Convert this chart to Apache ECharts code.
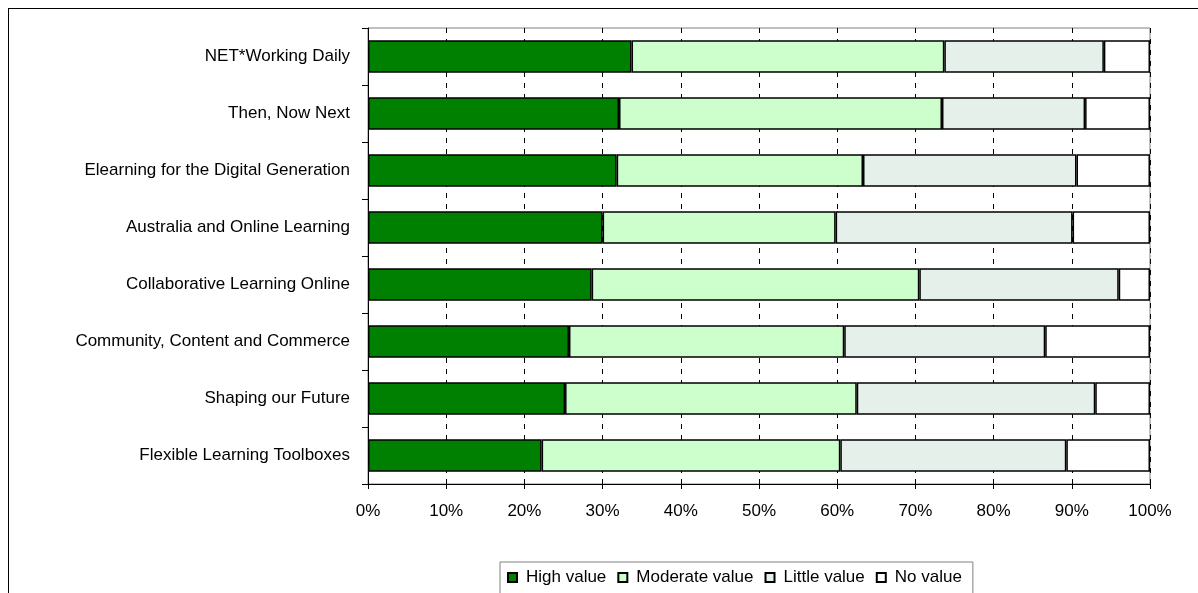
<!DOCTYPE html>
<html>
<head>
<meta charset="utf-8">
<script src="https://cdn.jsdelivr.net/npm/echarts@6/dist/echarts.min.js"></script>
<style>
  html, body { margin: 0; padding: 0; background: #fff; }
  #frame { position: absolute; left: 8px; top: 8px; width: 1190px; height: 585px; border-left: 1px solid #000; border-top: 1px solid #000; }
  #chart { position: absolute; left: 0; top: 0; width: 1198px; height: 593px; }
</style>
</head>
<body>
<div id="frame"></div>
<div id="chart"></div>
<script>
const categories = [
  "NET*Working Daily",
  "Then, Now Next",
  "Elearning for the Digital Generation",
  "Australia and Online Learning",
  "Collaborative Learning Online",
  "Community, Content and Commerce",
  "Shaping our Future",
  "Flexible Learning Toolboxes"
];
const highValue     = [33.7, 32.1, 31.8, 30.0, 28.6, 25.7, 25.2, 22.2];
const moderateValue = [40.0, 41.3, 31.5, 29.8, 41.9, 35.2, 37.3, 38.2];
const littleValue   = [20.4, 18.3, 27.3, 30.3, 25.5, 25.7, 30.5, 28.9];
const noValue       = [5.9, 8.3, 9.4, 9.9, 4.0, 13.4, 7.0, 10.7];
const seriesNames = ["High value", "Moderate value", "Little value", "No value"];
const xTicks = [0, 10, 20, 30, 40, 50, 60, 70, 80, 90, 100];

const colors = ["#008000", "#CCFFCC", "#E6F0EA", "#FFFFFF"];
const font = "'Liberation Sans', Arial, sans-serif";

const chart = echarts.init(document.getElementById('chart'), null, { renderer: 'canvas' });
const dataSets = [highValue, moderateValue, littleValue, noValue];

chart.setOption({
  animation: false,
  backgroundColor: 'transparent',
  grid: { left: 368, right: 48, top: 28, bottom: 109, show: true, borderColor: '#808080', borderWidth: 1 },
  legend: {
    data: seriesNames,
    top: 562,
    left: 500,
    icon: 'rect',
    itemWidth: 9,
    itemHeight: 9,
    itemGap: 11,
    padding: [7, 11, 14, 7],
    borderColor: '#808080',
    borderWidth: 1,
    textStyle: { fontFamily: font, fontSize: 17, color: '#000', padding: [0, 0, 0, 4] }
  },
  xAxis: {
    type: 'value',
    min: xTicks[0],
    max: xTicks[xTicks.length - 1],
    interval: 10,
    axisLine: { show: true, lineStyle: { color: '#000', width: 1 } },
    axisTick: { show: true, length: 5, lineStyle: { color: '#000' } },
    axisLabel: { formatter: '{value}%', fontFamily: font, fontSize: 17, color: '#000', margin: 19 },
    splitLine: { show: true, lineStyle: { color: '#000', type: [5, 6], width: 1 } }
  },
  yAxis: {
    type: 'category',
    data: categories,
    inverse: true,
    axisLine: { show: true, lineStyle: { color: '#000', width: 1 } },
    axisTick: { show: true, length: 6, lineStyle: { color: '#000' } },
    axisLabel: { fontFamily: font, fontSize: 17, color: '#000', margin: 18 }
  },
  series: seriesNames.map((name, i) => ({
    name: name,
    type: 'bar',
    stack: 'total',
    barWidth: '57%',
    data: dataSets[i],
    itemStyle: { color: colors[i], borderColor: '#000', borderWidth: 1.5 }
  }))
});
</script>
</body>
</html>
